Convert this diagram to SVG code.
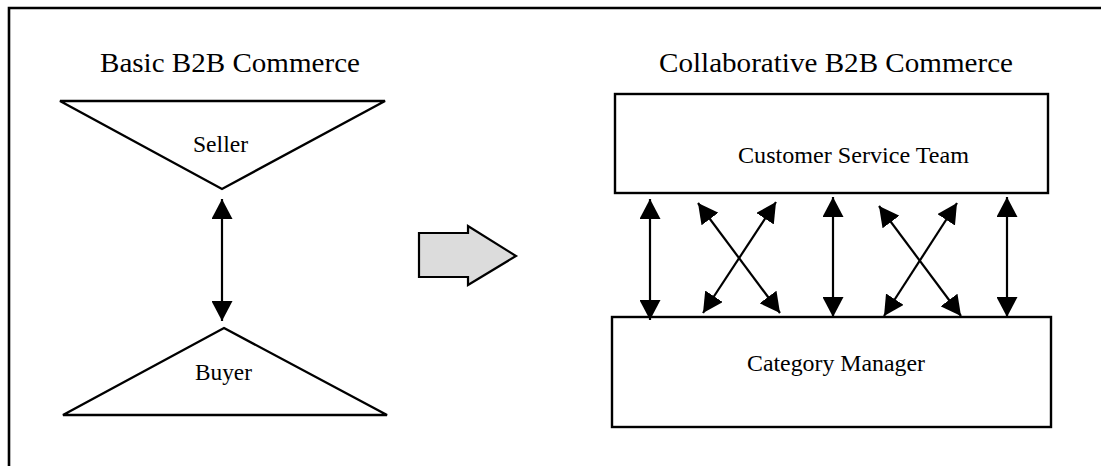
<svg xmlns="http://www.w3.org/2000/svg" width="1101" height="466" viewBox="0 0 1101 466">
  <defs>
    <style>
      .shape { fill: #ffffff; stroke: #000000; stroke-width: 2.4; }
      .conn { stroke: #000000; stroke-width: 2.2; fill: none; marker-start: url(#ah); marker-end: url(#ah); }
      .title { font-family: "Liberation Serif", "Times New Roman", serif; font-size: 28px; fill: #000; }
      .label { font-family: "Liberation Serif", "Times New Roman", serif; font-size: 23px; fill: #000; }
    </style>
    <marker id="ah" markerUnits="userSpaceOnUse" markerWidth="20" markerHeight="21" refX="20" refY="10.5" orient="auto-start-reverse" viewBox="0 0 20 21">
      <path d="M0,0 L20,10.5 L0,21 Z" fill="#000"/>
    </marker>
  </defs>
  <rect width="1101" height="466" fill="#ffffff"/>
  <g id="frame">
    <path d="M9,466 L9,8 L1101,8" fill="none" stroke="#000" stroke-width="2.6"/>
  </g>
  <g id="titles">
    <text class="title" x="100" y="72" textLength="260" lengthAdjust="spacingAndGlyphs">Basic B2B Commerce</text>
    <text class="title" x="659" y="72" textLength="354" lengthAdjust="spacingAndGlyphs">Collaborative B2B Commerce</text>
  </g>
  <g id="seller">
    <polygon class="shape" points="60,101 385,101 222,189"/>
    <text class="label" x="193" y="152" textLength="55" lengthAdjust="spacingAndGlyphs">Seller</text>
  </g>
  <g id="buyer">
    <polygon class="shape" points="224,328 387,415 63,415"/>
    <text class="label" x="195" y="380" textLength="57" lengthAdjust="spacingAndGlyphs">Buyer</text>
  </g>
  <g id="transition">
    <polygon points="419,233 468,233 468,226 516,256 468,285 468,277 419,277" fill="#dcdcdc" stroke="#000" stroke-width="2.2"/>
  </g>
  <g id="customer-service-team">
    <rect class="shape" x="615" y="94" width="433" height="99"/>
    <text class="label" x="738" y="163" textLength="231" lengthAdjust="spacingAndGlyphs">Customer Service Team</text>
  </g>
  <g id="category-manager">
    <rect class="shape" x="612" y="317" width="439" height="110"/>
    <text class="label" x="747" y="371" textLength="178" lengthAdjust="spacingAndGlyphs">Category Manager</text>
  </g>
  <g id="connectors">
    <line class="conn" x1="222" y1="199" x2="222" y2="321"/>
    <line class="conn" x1="650" y1="199" x2="650" y2="320"/>
    <line class="conn" x1="833" y1="197" x2="833" y2="317"/>
    <line class="conn" x1="1007" y1="197" x2="1007" y2="317"/>
    <line class="conn" x1="698" y1="203" x2="780" y2="313"/>
    <line class="conn" x1="776" y1="202" x2="703" y2="313"/>
    <line class="conn" x1="879" y1="206" x2="961" y2="316"/>
    <line class="conn" x1="957" y1="203" x2="884" y2="316"/>
  </g>
</svg>
